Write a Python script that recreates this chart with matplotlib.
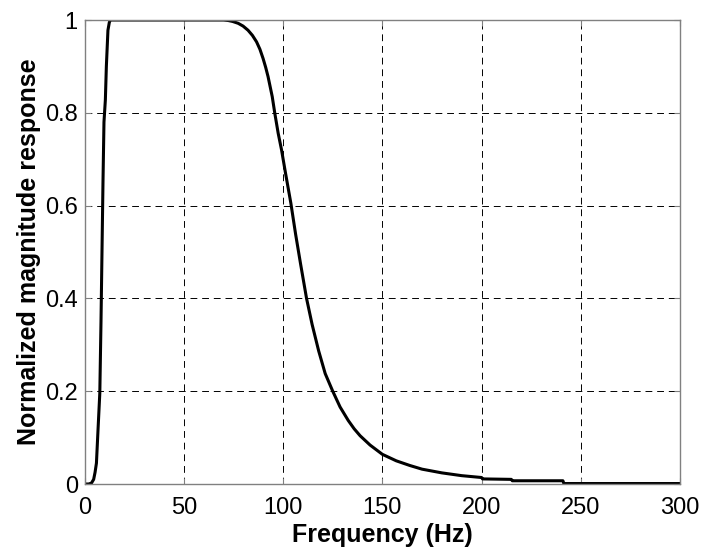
import numpy as np
import matplotlib.pyplot as plt

# 读自参考图的频率响应点（Hz, 归一化幅值）
freq_hz = [0, 2, 3.4, 4.5, 5.2, 5.9, 6.7, 7.6, 8.2, 8.7, 9.2, 9.7, 10.4, 10.9, 11.7,
           12.4, 12.9, 20, 40, 60, 70, 72.3, 74.5, 77.3, 79.8, 82.3, 84.5, 86.6, 88.3,
           89.9, 91.2, 92.4, 94.5, 95.8, 97.5, 99.2, 101.2, 103.9, 106.3, 108.8, 111.8,
           114.6, 117.9, 121.2, 125.0, 128.7, 132.8, 135.8, 138.8, 143.8, 150, 157, 163.8,
           170, 180, 190, 200, 200.5, 215, 215.5, 241, 241.5, 260, 280, 300]
magnitude = [0, 0, 0.002, 0.01, 0.025, 0.045, 0.117, 0.196, 0.35, 0.5, 0.65, 0.78,
             0.828, 0.9, 0.978, 0.995, 1.0, 1.0, 1.0, 1.0, 1.0, 0.999, 0.997, 0.993,
             0.987, 0.978, 0.967, 0.953, 0.937, 0.917, 0.898, 0.878, 0.835, 0.799, 0.756,
             0.72, 0.67, 0.605, 0.538, 0.474, 0.4, 0.344, 0.287, 0.238, 0.2, 0.166,
             0.137, 0.119, 0.104, 0.084, 0.064, 0.05, 0.04, 0.032, 0.024, 0.018, 0.014,
             0.011, 0.01, 0.007, 0.007, 0.001, 0.001, 0.001, 0.001]

x_ticks = [0, 50, 100, 150, 200, 250, 300]
y_ticks = [0, 0.2, 0.4, 0.6, 0.8, 1]
y_tick_labels = ['0', '0.2', '0.4', '0.6', '0.8', '1']

plt.rcParams['font.family'] = ['Liberation Sans', 'DejaVu Sans']

fig = plt.figure(figsize=(7.12, 5.58), dpi=100)
ax = fig.add_axes([0.119, 0.1326, 0.836, 0.8315])

ax.plot(freq_hz, magnitude, color='black', linewidth=2.2)

ax.set_xlim(0, 300)
ax.set_ylim(0, 1)
ax.set_xticks(x_ticks)
ax.set_yticks(y_ticks)
ax.set_yticklabels(y_tick_labels)
ax.tick_params(direction='in', length=4, width=0.8, color='#808080',
               labelsize=17, top=True, right=True)
ax.tick_params(axis='x', pad=9)
ax.tick_params(axis='y', pad=5)
ax.grid(True, color='black', linestyle=(0, (7, 5)), linewidth=0.7)
for s in ax.spines.values():
    s.set_color('#808080')
    s.set_linewidth(1)

ax.set_xlabel('Frequency (Hz)', fontsize=18, fontweight='bold', labelpad=3)
ax.set_ylabel('Normalized magnitude response', fontsize=18, fontweight='bold', labelpad=3)

fig.savefig('out.png', dpi=100)
